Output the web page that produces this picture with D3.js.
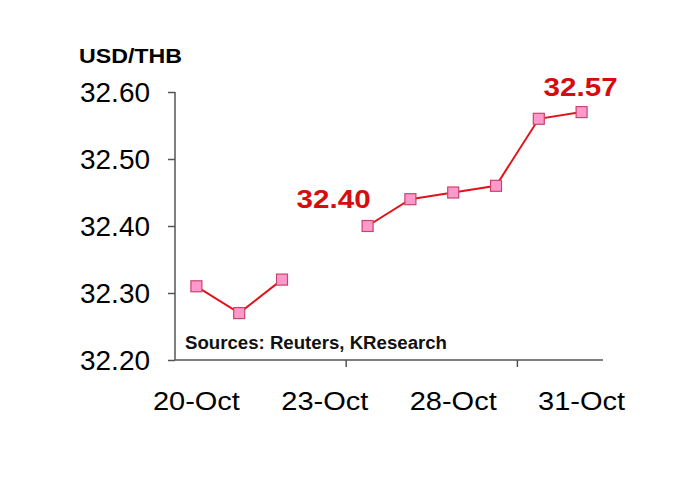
<!DOCTYPE html>
<html><head><meta charset="utf-8">
<script src="https://cdn.jsdelivr.net/npm/d3@7"></script>
<style>body{margin:0;background:#fff}svg{display:block}text{font-family:"Liberation Sans",Arial,sans-serif}</style>
</head><body><svg id="c" width="700" height="504"></svg>
<script>
const categories = ["20-Oct","21-Oct","22-Oct","23-Oct","24-Oct","27-Oct","28-Oct","29-Oct","30-Oct","31-Oct"];
const values = [32.31, 32.27, 32.32, null, 32.40, 32.44, 32.45, 32.46, 32.56, 32.57];
const tickLabels = ["20-Oct","23-Oct","28-Oct","31-Oct"];
const yTicks = [32.20, 32.30, 32.40, 32.50, 32.60];
const annotations = [{i:4, text:"32.40"}, {i:9, text:"32.57"}];

const svg = d3.select("#c");
const x = d3.scaleBand().domain(categories).range([175, 603]).padding(0);
const y = d3.scaleLinear().domain([32.20, 32.60]).range([360, 92]);

// y axis
const yAxis = d3.axisLeft(y).tickValues(yTicks).tickFormat(d3.format(".2f")).tickSize(7).tickPadding(18);
const gy = svg.append("g").attr("transform","translate(175,0)").call(yAxis);
gy.select(".domain").attr("stroke","#555").attr("stroke-width",1.5).attr("d","M0,92V360");
gy.selectAll(".tick line").attr("stroke","#555").attr("stroke-width",1.5);
gy.selectAll(".tick text").attr("font-size",27).attr("fill","#000").attr("dy","0.35em")
  .attr("textLength",70).attr("lengthAdjust","spacingAndGlyphs");

// x axis
const gx = svg.append("g").attr("transform","translate(0,360)");
gx.append("line").attr("x1",175).attr("x2",603).attr("y1",0).attr("y2",0).attr("stroke","#555").attr("stroke-width",1.5);
[4,8].forEach(k=>{
  const xx = x(categories[k]);
  gx.append("line").attr("x1",xx).attr("x2",xx).attr("y1",0).attr("y2",7).attr("stroke","#555").attr("stroke-width",1.5);
});
gx.selectAll("text.xl").data(tickLabels).join("text").attr("class","xl")
  .attr("x",d=>x(d)+x.bandwidth()/2).attr("y",50).attr("text-anchor","middle")
  .attr("font-size",26).attr("fill","#000").attr("textLength",87).attr("lengthAdjust","spacingAndGlyphs").text(d=>d);

// title
svg.append("text").attr("x",79).attr("y",63).attr("font-size",21).attr("font-weight","bold")
  .attr("textLength",103).attr("lengthAdjust","spacingAndGlyphs").text("USD/THB");

// line
const pts = categories.map((c,i)=>({c, v:values[i]}));
const line = d3.line().defined(d=>d.v!==null).x(d=>x(d.c)+x.bandwidth()/2).y(d=>y(d.v));
svg.append("path").datum(pts).attr("d",line).attr("fill","none").attr("stroke","#e0131b").attr("stroke-width",2);

const s = 11;
svg.selectAll("rect.m").data(pts.filter(d=>d.v!==null)).join("rect").attr("class","m")
  .attr("x",d=>x(d.c)+x.bandwidth()/2-s/2).attr("y",d=>y(d.v)-s/2)
  .attr("width",s).attr("height",s).attr("fill","#ff99cc").attr("stroke","#c8456a").attr("stroke-width",1.2);

// annotations
svg.selectAll("text.an").data(annotations).join("text").attr("class","an")
  .attr("x",d=>x(categories[d.i])+x.bandwidth()/2 + (d.i===4?-34:-1))
  .attr("y",d=>y(values[d.i]) - (d.i===4?18:16))
  .attr("text-anchor","middle").attr("font-size",26).attr("font-weight","bold").attr("fill","#d50d0d")
  .attr("textLength",74).attr("lengthAdjust","spacingAndGlyphs").text(d=>d.text);

// source
svg.append("text").attr("x",185).attr("y",349).attr("font-size",18).attr("font-weight","bold").attr("fill","#111")
  .attr("textLength",262).attr("lengthAdjust","spacingAndGlyphs").text("Sources: Reuters, KResearch");
</script></body></html>
